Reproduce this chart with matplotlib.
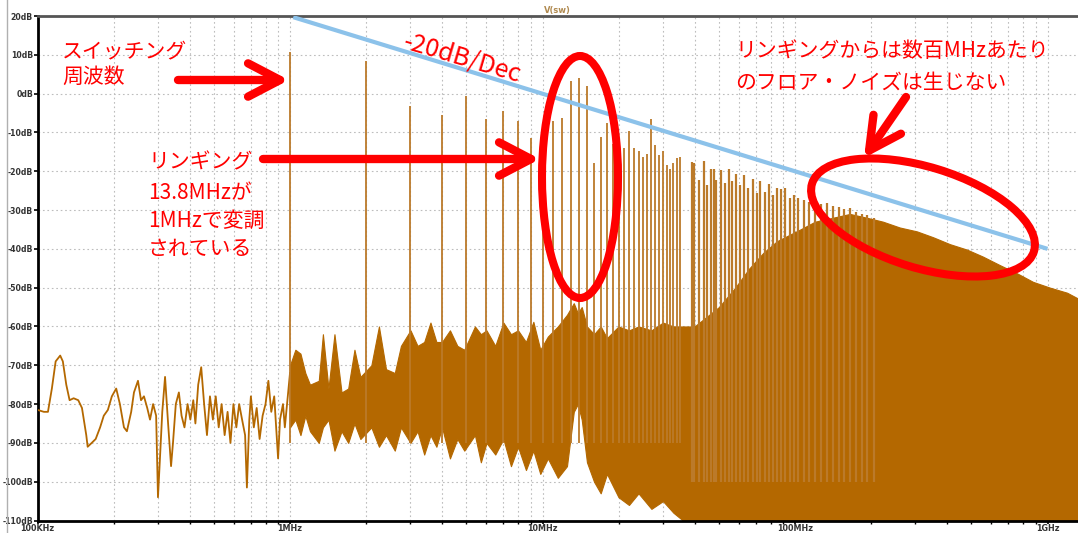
import numpy as np
import matplotlib.pyplot as plt
from matplotlib.patches import Ellipse
from matplotlib.ticker import FixedLocator, NullFormatter

plt.rcParams['font.family'] = ['Noto Sans CJK JP', 'DejaVu Sans']

# low frequency part of V(sw) spectrum, 100kHz - 1MHz
lf_khz = [100, 106, 110, 114, 118, 123, 126, 130, 134, 139, 145, 150, 156, 158, 164, 170,
          177, 183, 190, 197, 205, 212, 220, 226, 235, 241, 250, 257, 264, 272, 279, 287,
          295, 300, 306, 312, 320, 329, 338, 344, 353, 363, 372, 382, 393, 403, 414, 422,
          433, 445, 457, 469, 482, 495, 508, 522, 536, 551, 566, 581, 597, 613, 629, 646,
          664, 675, 690, 700, 719, 738, 758, 779, 800, 821, 843, 866, 897, 913, 938, 954, 1000]
lf_db = [-81.5, -82, -82, -76, -69, -67.5, -69, -75, -79, -78.5, -79, -81, -88, -91, -90, -89,
         -86, -83, -81.5, -78, -76, -80, -86, -87, -82, -77, -74, -79, -78, -81, -84, -80,
         -83, -104, -93, -82, -73, -85, -96, -90, -80, -77, -83, -86, -80, -84, -79, -85,
         -75, -70.5, -80, -88, -78, -84, -78, -86, -80, -88, -82, -90, -80, -86, -80, -84,
         -88, -101.5, -84, -78, -86, -81, -89, -83, -80, -74, -82, -78, -94, -84, -80, -86, -72]

# noise band 1MHz - 40MHz (top / bottom of the trace)
band_mhz = [1.0, 1.05, 1.1, 1.15, 1.2, 1.3, 1.35, 1.42, 1.5, 1.6, 1.7, 1.8, 1.9, 2.1, 2.25,
            2.4, 2.6, 2.75, 3.0, 3.2, 3.4, 3.6, 3.8, 4.0, 4.3, 4.6, 4.9, 5.4, 5.7, 6.0, 6.5,
            7.0, 7.5, 8.0, 8.6, 9.2, 9.8, 10.5, 11.5, 12.5, 13.3, 13.8, 14.3, 15.0, 16, 17,
            18, 20, 22, 24, 27, 30, 33, 36, 40]
band_top = [-70, -66, -67, -72, -75, -74, -62, -76, -62, -77, -76, -66, -73, -70, -60,
            -71, -72, -65, -61, -65, -64, -59, -64, -64, -61, -65, -66, -60, -62, -61, -65,
            -59, -62, -61, -64, -58.8, -66, -62.6, -60, -57, -54, -56.6, -55, -60, -62, -60,
            -63, -60, -61, -60, -61, -59, -60, -60, -60]
band_bot = [-86, -84, -88, -83, -87, -90, -86, -84, -92, -87, -90, -85, -89, -86, -91,
            -88, -92, -86, -90, -87, -93, -88, -91, -86, -94, -89, -92, -88, -95, -90, -93,
            -89, -96, -91, -97, -92, -98, -94, -99, -96, -82, -80, -84, -95, -100, -103,
            -98, -104, -106, -103, -107, -105, -108, -110, -110]

# solid part of the spectrum, 40MHz - 1.32GHz (upper edge)
solid_mhz = [40, 50, 58, 66, 75, 85, 105, 120, 141, 165, 193, 223, 260, 304, 352, 411,
             480, 555, 648, 757, 876, 1023, 1195, 1321]
solid_top = [-60, -55, -50, -45, -41, -38, -35, -33, -32, -31, -32, -33, -34.5, -35.5,
             -37, -38.8, -40.2, -42, -44.2, -46.3, -48.5, -50, -51.3, -52.8]

# switching harmonics 1MHz .. 35MHz (peak dB)
harm_mhz = list(range(1, 36))
harm_db = [10.8, 8.5, -3.2, -5.6, -0.7, -6.6, -4.5, -7.1, -11.4, -8,
           -7.0, -6.3, 3.3, 3.9, 2.0, -18, -11.2, -7.7, -13, -12,
           -14, -9.6, -14.0, -14.7, -16.3, -15.6, -6.5, -13.3, -15.8, -14.8,
           -18.5, -19.5, -18, -16.7, -16.3]

# visible harmonic tips 38MHz .. 205MHz
bar_mhz = [39.0, 39.9, 41.7, 43.6, 44.8, 46.6, 47.6, 48.8, 50.9, 52.7, 54.6, 56.4, 58.4,
           60.7, 62.6, 65.3, 68, 70.6, 73, 76.1, 78.7, 81.7, 85, 88.2, 91.7, 95.5, 99.5,
           103, 108.5, 114, 120, 127, 134, 141, 149, 157, 165, 175, 184, 193, 205]
bar_db = [-17.5, -18, -22.3, -17.4, -23.6, -19.3, -19.5, -22.3, -19.7, -23, -19.5, -22.6,
          -20.7, -23.6, -21, -24.2, -22, -25.7, -22.5, -25.4, -23.3, -26.2, -24.2, -24.5,
          -24.4, -27, -26.1, -27, -27.4, -27.8, -27.4, -28.5, -28.3, -29, -29.3, -29.8,
          -29.5, -30.6, -31, -31.3, -32]

# -20dB/Dec reference line
ref_mhz = [1.03, 1000]
ref_db = [19.7, -40]

xticks_hz = [1e5, 1e6, 1e7, 1e8, 1e9]
xtick_labels = ['100KHz', '1MHz', '10MHz', '100MHz', '1GHz']
yticks = list(range(-110, 21, 10))

trace = '#b46800'
W, H = 1078, 533

fig = plt.figure(figsize=(W / 100, H / 100), dpi=100)
ax = fig.add_axes([37.5 / W, (H - 520.5) / H, 1 - 37.5 / W, (520.5 - 16) / H])

mhz = 1e6
ax.fill_between(np.array(solid_mhz) * mhz, solid_top, -110, color=trace, lw=0.8, zorder=2)
ax.fill_between(np.array(band_mhz) * mhz, band_top, band_bot, color=trace, lw=0.8, zorder=2)
ax.plot(np.array(lf_khz) * 1e3, lf_db, color=trace, lw=1.3, zorder=3)
ax.vlines(np.array(harm_mhz) * mhz, -90, harm_db, color='#bb7a2a', lw=1.3, zorder=3)
ax.vlines(np.array(bar_mhz) * mhz, -100, bar_db, color='#bb7a2a', lw=1.6, zorder=3)
ax.plot(np.array(ref_mhz) * mhz, ref_db, color='#8cc2ea', lw=3, solid_capstyle='butt', zorder=4)

ax.set_xscale('log')
ax.set_xlim(1e5, 1e5 * 10 ** ((W - 37.5) / 252.5))
ax.set_ylim(-110, 20)

ax.xaxis.set_major_locator(FixedLocator(xticks_hz))
ax.set_xticklabels(xtick_labels)
minor = [m * d for d in xticks_hz for m in range(2, 10)]
ax.xaxis.set_minor_locator(FixedLocator(minor))
ax.xaxis.set_minor_formatter(NullFormatter())
ax.set_yticks(yticks)
ax.set_yticklabels([f'{v}dB' for v in yticks])

ax.tick_params(axis='y', length=3, width=1.2, labelsize=5.6, labelcolor='#333333', pad=0.3)
ax.tick_params(axis='x', which='major', length=2.5, width=1.2, labelsize=5.8,
               labelcolor='#333333', pad=0.3)
ax.tick_params(axis='x', which='minor', length=2, width=1)
for lbl in ax.get_xticklabels() + ax.get_yticklabels():
    lbl.set_fontweight('bold')
    lbl.set_family('DejaVu Sans')

grid_kw = dict(color='#bdbdbd', lw=0.8, linestyle=(0, (1.5, 2.5)))
ax.grid(True, which='both', axis='x', **grid_kw)
ax.grid(True, which='major', axis='y', **grid_kw)
ax.set_axisbelow(True)

ax.spines['left'].set_linewidth(2)
ax.spines['bottom'].set_linewidth(2)
ax.spines['top'].set_linewidth(2)
ax.spines['top'].set_color('#555555')
ax.spines['right'].set_visible(False)

# annotations in pixel coordinates
ov = fig.add_axes([0, 0, 1, 1])
ov.set_xlim(0, W)
ov.set_ylim(H, 0)
ov.axis('off')
ov.patch.set_alpha(0)

ov.axvline(6.5, color='#b0b0b0', lw=1, zorder=0)
ov.text(557, 10, 'V(sw)', color='#b08a50', fontsize=6, fontweight='bold',
        ha='center', va='center', family='DejaVu Sans')

red = '#ff0000'
txt = dict(color=red, fontsize=15, ha='left', va='center')
ov.text(62, 51, 'スイッチング', **txt)
ov.text(62, 77, '周波数', **txt)
ov.text(148, 162, 'リンギング', **txt)
ov.text(148, 193, '13.8MHzが', **txt)
ov.text(148, 221, '1MHzで変調', **txt)
ov.text(148, 249, 'されている', **txt)
ov.text(735, 51, 'リンギングからは数百MHzあたり', **txt)
ov.text(735, 83, 'のフロア・ノイズは生じない', **txt)
ov.text(462, 58, '-20dB/Dec', color=red, fontsize=18, ha='center', va='center',
        rotation=-16.5, rotation_mode='anchor')

arrow = dict(arrowstyle='->,head_length=1.15,head_width=0.6', color=red, lw=6,
             shrinkA=0, shrinkB=0, mutation_scale=20)
ov.annotate('', xy=(289, 80), xytext=(178, 80), arrowprops=arrow)
ov.annotate('', xy=(540, 159), xytext=(263, 159), arrowprops=arrow)
ov.annotate('', xy=(864, 158), xytext=(906, 97), arrowprops=arrow)

ov.add_patch(Ellipse((580, 177), 76, 242, fill=False, edgecolor=red, lw=5.8))
ov.add_patch(Ellipse((923, 217.5), 232, 101, angle=17, fill=False, edgecolor=red, lw=5.8))

fig.savefig('out.png', dpi=100)
